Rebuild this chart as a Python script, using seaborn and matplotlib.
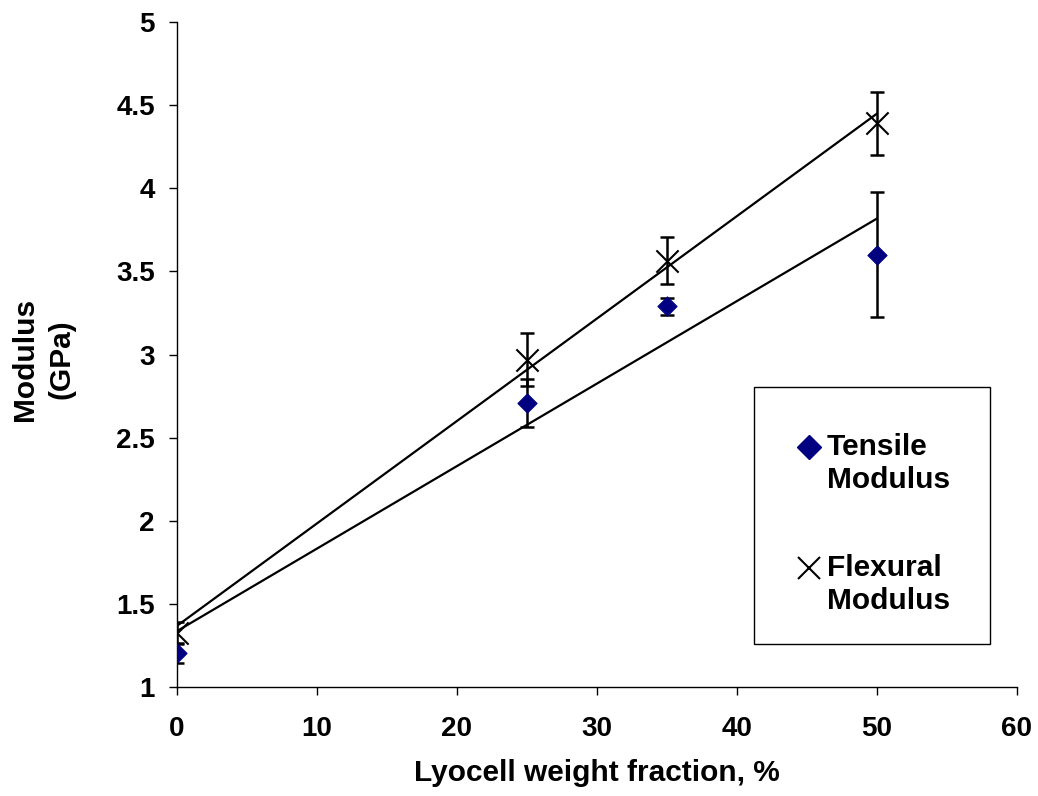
import matplotlib
matplotlib.use("Agg")
import matplotlib.pyplot as plt
from matplotlib.lines import Line2D
from matplotlib.patches import Rectangle
import seaborn as sns
import numpy as np
import pandas as pd

fraction = [0, 25, 35, 50]
tensile = [1.205, 2.71, 3.29, 3.60]
tensile_err = [0.06, 0.145, 0.05, 0.375]
flexural = [1.325, 2.97, 3.565, 4.39]
flexural_err = [0.065, 0.16, 0.14, 0.19]
x_ticks = [0, 10, 20, 30, 40, 50, 60]
y_ticks = [1, 1.5, 2, 2.5, 3, 3.5, 4, 4.5, 5]
y_tick_labels = ["1", "1.5", "2", "2.5", "3", "3.5", "4", "4.5", "5"]
legend_labels = ["Tensile\nModulus", "Flexural\nModulus"]

sns.set_theme(style="white")
plt.rcParams['font.family'] = ['Liberation Sans', 'DejaVu Sans']
plt.rcParams['font.weight'] = 'bold'
for k in ["text.color", "axes.labelcolor", "xtick.color", "ytick.color"]:
    plt.rcParams[k] = "black"

df = pd.DataFrame({"x": fraction, "tensile": tensile, "flexural": flexural})

fig = plt.figure(figsize=(10.38, 7.96), dpi=100)
ax = fig.add_axes([0.1705, 0.1369, 0.8092, 0.8354])

# trend lines (linear fits)
sns.regplot(data=df, x="x", y="tensile", scatter=False, ci=None, ax=ax,
            line_kws=dict(color="black", lw=1.6), truncate=True)
sns.regplot(data=df, x="x", y="flexural", scatter=False, ci=None, ax=ax,
            line_kws=dict(color="black", lw=1.6), truncate=True)

# error bars
ax.errorbar(fraction, tensile, yerr=tensile_err, fmt="none", ecolor="black",
            elinewidth=1.8, capsize=5, capthick=1.8, zorder=3)
ax.errorbar(fraction, flexural, yerr=flexural_err, fmt="none", ecolor="black",
            elinewidth=1.8, capsize=5, capthick=1.8, zorder=3)

sns.scatterplot(data=df, x="x", y="tensile", marker="D", s=95, color="#000080",
                edgecolor="#000080", ax=ax, zorder=4, legend=False)
sns.scatterplot(data=df, x="x", y="flexural", marker="x", s=256, color="black",
                linewidth=1.5, ax=ax, zorder=4, legend=False)

ax.set_xlim(0, 60)
ax.set_ylim(1, 5)
ax.set_xticks(x_ticks)
ax.set_xticklabels([str(t) for t in x_ticks])
ax.set_yticks(y_ticks)
ax.set_yticklabels(y_tick_labels)
ax.tick_params(axis="both", which="both", direction="out", length=6, width=1,
               color="black", labelsize=20, bottom=True, left=True)
ax.tick_params(axis="x", pad=15)
ax.tick_params(axis="y", pad=10)
for lab in ax.get_xticklabels() + ax.get_yticklabels():
    lab.set_fontweight("bold")

for s in ["top", "right"]:
    ax.spines[s].set_visible(False)
for s in ["left", "bottom"]:
    ax.spines[s].set_color("black")
    ax.spines[s].set_linewidth(1)

ax.set_xlabel("Lyocell weight fraction, %", fontsize=21.5, fontweight="bold",
              labelpad=12)
ax.set_ylabel("Modulus\n(GPa)", fontsize=21.5, fontweight="bold",
              linespacing=1.35)
ax.yaxis.set_label_coords(-0.1214, 0.493)

# legend frame
ax.add_patch(Rectangle((0.6869, 0.0647), 0.281, 0.3865, transform=ax.transAxes,
                       facecolor="white", edgecolor="black", lw=1, zorder=5))

handles = [
    Line2D([], [], marker="D", ls="none", color="#000080", markersize=12.5),
    Line2D([], [], marker="x", ls="none", color="black", markersize=16.5,
           markeredgewidth=1.5),
]
leg = ax.legend(handles=handles, labels=legend_labels, loc="upper left",
                bbox_to_anchor=(0.7345, 0.382), fontsize=21.5, frameon=False,
                labelspacing=2.02, handletextpad=0.1, borderpad=0,
                handlelength=1.0, borderaxespad=0)
leg.set_zorder(6)
for t in leg.get_texts():
    t.set_fontweight("bold")
    t.set_linespacing(1.22)
for h in leg.legend_handles:
    y = np.asarray(h.get_ydata(), dtype=float)
    h.set_ydata(y + 12)

fig.savefig("out.png", dpi=100)
